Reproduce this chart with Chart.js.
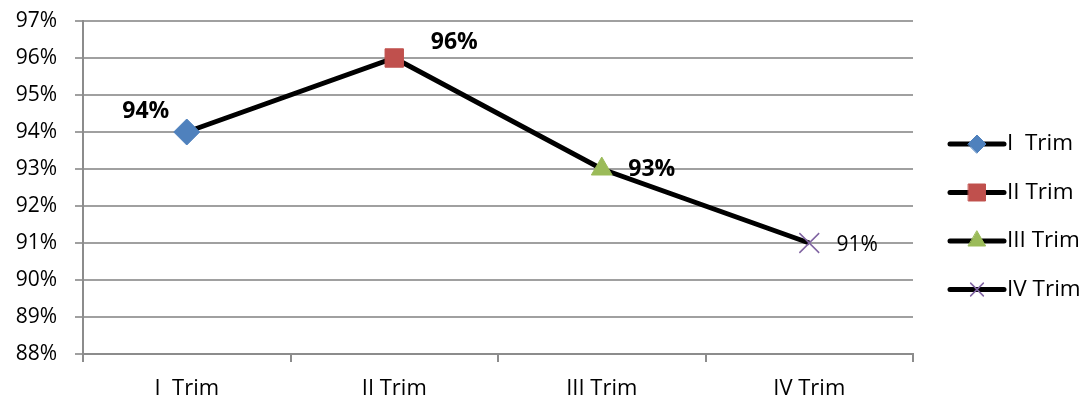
<!DOCTYPE html>
<html>
<head>
<meta charset="utf-8">
<script src="https://cdn.jsdelivr.net/npm/chart.js@4/dist/chart.umd.min.js"></script>
<style>
  html, body { margin: 0; padding: 0; background: #ffffff; }
  #wrap { width: 1088px; height: 399px; }
</style>
</head>
<body>
<div id="wrap"><canvas id="c" width="1088" height="399"></canvas></div>
<script>
// Quarterly values (percent)
const categories = ['I  Trim', 'II Trim', 'III Trim', 'IV Trim'];
const values = [94, 96, 93, 91];
const yTicks = [88, 89, 90, 91, 92, 93, 94, 95, 96, 97];

// Marker look per quarter
const markerStyles = ['rectRot', 'rect', 'triangle', 'crossRot'];
const markerColors = ['#4F81BD', '#C0504D', '#9BBB59', '#8064A2'];
const markerRadius = [13, 13, 12, 14];
const legendRadius = [9, 12, 10, 9];

// Value label placement relative to each point (dx, dy, bold)
const labelOffsets = [[-41, -21, true], [60, -16, true], [50, 0, true], [48, 2, false]];

const FONT = '"Open Sans", Lato, sans-serif';

const valueLabels = {
  id: 'valueLabels',
  afterDatasetsDraw(chart) {
    const ctx = chart.ctx;
    const meta = chart.getDatasetMeta(0);
    ctx.save();
    ctx.fillStyle = '#000';
    ctx.textAlign = 'center';
    ctx.textBaseline = 'middle';
    meta.data.forEach((pt, i) => {
      const [dx, dy, bold] = labelOffsets[i];
      ctx.font = (bold ? 'bold 23px ' : '21px ') + FONT;
      ctx.fillText(values[i] + '%', pt.x + dx, pt.y + dy);
    });
    ctx.restore();
  }
};

const sideLegend = {
  id: 'sideLegend',
  afterDraw(chart) {
    const ctx = chart.ctx;
    const x0 = 950, x1 = 1004, xm = 977;
    const top = 144, gap = 48.5;
    ctx.save();
    categories.forEach((name, i) => {
      const y = top + i * gap;
      ctx.strokeStyle = '#000';
      ctx.lineWidth = 5;
      ctx.lineCap = 'round';
      ctx.beginPath();
      ctx.moveTo(x0, y);
      ctx.lineTo(x1, y);
      ctx.stroke();
      ctx.fillStyle = markerColors[i];
      ctx.strokeStyle = markerColors[i];
      ctx.lineWidth = markerStyles[i] === 'crossRot' ? 1.5 : 1;
      Chart.helpers.drawPoint(ctx, { pointStyle: markerStyles[i], radius: legendRadius[i], rotation: 0, borderWidth: ctx.lineWidth }, xm, y);
      ctx.fillStyle = '#000';
      ctx.font = '22.5px ' + FONT;
      ctx.textAlign = 'left';
      ctx.textBaseline = 'middle';
      ctx.fillText(name, 1007, y);
    });
    ctx.restore();
  }
};

new Chart(document.getElementById('c'), {
  type: 'line',
  data: {
    labels: categories,
    datasets: [{
      data: values,
      borderColor: '#000',
      borderWidth: 5,
      tension: 0,
      pointStyle: markerStyles,
      pointRadius: markerRadius,
      pointBackgroundColor: markerColors,
      pointBorderColor: markerColors,
      pointBorderWidth: [1, 1, 1, 1.5],
      fill: false
    }]
  },
  options: {
    responsive: false,
    animation: false,
    layout: { padding: { top: 21, right: 175, left: 0, bottom: 0 } },
    plugins: { legend: { display: false }, tooltip: { enabled: false } },
    scales: {
      x: {
        offset: true,
        grid: { offset: true, drawOnChartArea: false, drawTicks: true, tickLength: 8, color: '#8c8c8c', lineWidth: 2 },
        border: { color: '#8c8c8c', width: 2 },
        ticks: { color: '#000', font: { family: FONT, size: 22 }, padding: 14, maxRotation: 0 },
        afterFit(scale) { scale.height = 45; scale.paddingLeft = 0; scale.paddingRight = 0; }
      },
      y: {
        min: 88, max: 97,
        afterBuildTicks(scale) { scale.ticks = yTicks.map(v => ({ value: v })); },
        grid: { color: '#a0a0a0', lineWidth: 2, tickLength: 8 },
        border: { color: '#8c8c8c', width: 2 },
        ticks: { color: '#000', font: { family: FONT, size: 21 }, padding: 18, callback: v => v + '%' },
        afterFit(scale) { scale.width = 83; scale.paddingTop = 0; scale.paddingBottom = 0; }
      }
    }
  },
  plugins: [valueLabels, sideLegend]
});
</script>
</body>
</html>
